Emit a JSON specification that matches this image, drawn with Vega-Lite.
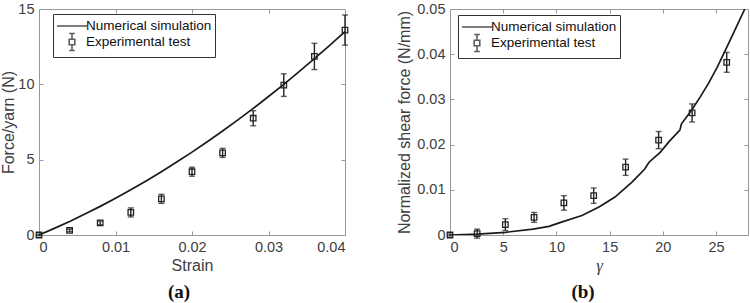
{
  "$schema": "https://vega.github.io/schema/vega-lite/v6.json",
  "padding": {"left": 0, "top": 0, "right": 0, "bottom": 0},
  "spacing": 45,
  "datasets": {
    "simA": [
      {"strain": 0, "force": 0}, {"strain": 0.002, "force": 0.44}, {"strain": 0.004, "force": 0.9},
      {"strain": 0.006, "force": 1.39}, {"strain": 0.008, "force": 1.9}, {"strain": 0.01, "force": 2.44},
      {"strain": 0.012, "force": 3.0}, {"strain": 0.014, "force": 3.59}, {"strain": 0.016, "force": 4.2},
      {"strain": 0.018, "force": 4.84}, {"strain": 0.02, "force": 5.5}, {"strain": 0.022, "force": 6.19},
      {"strain": 0.024, "force": 6.9}, {"strain": 0.026, "force": 7.64}, {"strain": 0.028, "force": 8.4},
      {"strain": 0.03, "force": 9.19}, {"strain": 0.032, "force": 10.0}, {"strain": 0.034, "force": 10.84},
      {"strain": 0.036, "force": 11.7}, {"strain": 0.038, "force": 12.59}, {"strain": 0.04, "force": 13.5}
    ],
    "expA": [
      {"strain": 0, "force": 0, "err": 0.05}, {"strain": 0.004, "force": 0.3, "err": 0.08},
      {"strain": 0.008, "force": 0.8, "err": 0.12}, {"strain": 0.012, "force": 1.5, "err": 0.3},
      {"strain": 0.016, "force": 2.4, "err": 0.3}, {"strain": 0.02, "force": 4.2, "err": 0.3},
      {"strain": 0.024, "force": 5.45, "err": 0.3}, {"strain": 0.028, "force": 7.75, "err": 0.5},
      {"strain": 0.032, "force": 9.95, "err": 0.75}, {"strain": 0.036, "force": 11.85, "err": 0.87},
      {"strain": 0.04, "force": 13.6, "err": 1.0}
    ],
    "simB": [
      {"gamma": 0, "shear": 0}, {"gamma": 2.6, "shear": 0.0002}, {"gamma": 5.2, "shear": 0.0006},
      {"gamma": 7.8, "shear": 0.0013}, {"gamma": 9.3, "shear": 0.0019}, {"gamma": 10.4, "shear": 0.0028},
      {"gamma": 12.4, "shear": 0.0043}, {"gamma": 14.0, "shear": 0.0062}, {"gamma": 15.5, "shear": 0.0084},
      {"gamma": 17.1, "shear": 0.0117}, {"gamma": 18.3, "shear": 0.0146}, {"gamma": 18.7, "shear": 0.0161},
      {"gamma": 19.75, "shear": 0.0183}, {"gamma": 20.6, "shear": 0.0207}, {"gamma": 21.6, "shear": 0.0232},
      {"gamma": 21.75, "shear": 0.0246}, {"gamma": 22.7, "shear": 0.0276}, {"gamma": 23.5, "shear": 0.0305},
      {"gamma": 24.3, "shear": 0.0336}, {"gamma": 25.1, "shear": 0.0371}, {"gamma": 25.9, "shear": 0.041},
      {"gamma": 26.8, "shear": 0.0455}, {"gamma": 27.7, "shear": 0.05}
    ],
    "expB": [
      {"gamma": 0, "shear": 0, "err": 0.0002}, {"gamma": 2.55, "shear": 0.0003, "err": 0.001},
      {"gamma": 5.2, "shear": 0.0023, "err": 0.0013}, {"gamma": 7.9, "shear": 0.0039, "err": 0.0011},
      {"gamma": 10.7, "shear": 0.0071, "err": 0.0016}, {"gamma": 13.5, "shear": 0.0087, "err": 0.0017},
      {"gamma": 16.5, "shear": 0.015, "err": 0.0018}, {"gamma": 19.6, "shear": 0.021, "err": 0.0019},
      {"gamma": 22.75, "shear": 0.027, "err": 0.002}, {"gamma": 26.0, "shear": 0.0382, "err": 0.0022}
    ],
    "series": [{"series": "Numerical simulation"}, {"series": "Experimental test"}]
  },
  "hconcat": [
    {
      "width": 306,
      "height": 226,
      "title": {"text": "(a)", "orient": "bottom", "frame": "group", "dx": -13, "offset": 9},
      "layer": [
        {
          "data": {"name": "simA"},
          "mark": {"type": "line", "color": "#1a1a1a", "strokeWidth": 1.7},
          "encoding": {
            "x": {"field": "strain", "type": "quantitative", "title": "Strain",
                  "scale": {"domain": [0, 0.04], "nice": false},
                  "axis": {"orient": "bottom", "values": [0, 0.01, 0.02, 0.03, 0.04], "format": ".2~f"}},
            "y": {"field": "force", "type": "quantitative", "title": "Force/yarn (N)",
                  "scale": {"domain": [0, 15], "nice": false},
                  "axis": {"orient": "left", "values": [0, 5, 10, 15], "titlePadding": 1}}
          }
        },
        {
          "data": {"name": "expA"},
          "mark": {"type": "errorbar", "color": "#222", "thickness": 1.4, "ticks": {"size": 6, "thickness": 1.4}},
          "encoding": {
            "x": {"field": "strain", "type": "quantitative", "axis": null},
            "y": {"field": "force", "type": "quantitative", "axis": null},
            "yError": {"field": "err"}
          }
        },
        {
          "data": {"name": "expA"},
          "mark": {"type": "point", "shape": "square", "filled": false, "color": "#222", "size": 30, "strokeWidth": 1.3, "opacity": 1},
          "encoding": {
            "x": {"field": "strain", "type": "quantitative",
                  "axis": {"orient": "top", "values": [0.01, 0.02, 0.03], "labels": false, "title": null}},
            "y": {"field": "force", "type": "quantitative",
                  "axis": {"orient": "right", "values": [5, 10], "labels": false, "title": null}}
          }
        },
        {
          "data": {"name": "series"},
          "transform": [{"filter": "false"}],
          "mark": {"type": "point"},
          "encoding": {
            "shape": {"field": "series", "type": "nominal",
                      "scale": {"domain": ["Numerical simulation", "Experimental test"],
                                "range": ["M-1.875,0H1.875", "M0,-1.06V-0.35M0,0.35V1.06M-0.35,-1.06H0.35M-0.35,1.06H0.35M-0.35,-0.35H0.35V0.35H-0.35Z"]},
                      "legend": {"orient": "none", "legendX": 14, "legendY": 5}}
          }
        }
      ],
      "resolve": {"axis": {"x": "independent", "y": "independent"}}
    },
    {
      "width": 298,
      "height": 226,
      "title": {"text": "(b)", "orient": "bottom", "frame": "group", "dx": -16, "offset": 9},
      "layer": [
        {
          "data": {"name": "simB"},
          "mark": {"type": "line", "color": "#1a1a1a", "strokeWidth": 1.7, "clip": true},
          "encoding": {
            "x": {"field": "gamma", "type": "quantitative", "title": "γ",
                  "scale": {"domain": [0, 28], "nice": false},
                  "axis": {"orient": "bottom", "values": [0, 5, 10, 15, 20, 25], "titleFont": "Liberation Serif", "titleFontSize": 17, "titleFontStyle": "italic"}},
            "y": {"field": "shear", "type": "quantitative", "title": "Normalized shear force (N/mm)",
                  "scale": {"domain": [0, 0.05], "nice": false},
                  "axis": {"orient": "left", "values": [0, 0.01, 0.02, 0.03, 0.04, 0.05], "format": ".2~f"}}
          }
        },
        {
          "data": {"name": "expB"},
          "mark": {"type": "errorbar", "color": "#222", "thickness": 1.4, "ticks": {"size": 6, "thickness": 1.4}},
          "encoding": {
            "x": {"field": "gamma", "type": "quantitative", "axis": null},
            "y": {"field": "shear", "type": "quantitative", "axis": null},
            "yError": {"field": "err"}
          }
        },
        {
          "data": {"name": "expB"},
          "mark": {"type": "point", "shape": "square", "filled": false, "color": "#222", "size": 30, "strokeWidth": 1.3, "opacity": 1},
          "encoding": {
            "x": {"field": "gamma", "type": "quantitative",
                  "axis": {"orient": "top", "values": [5, 10, 15, 20, 25], "labels": false, "title": null}},
            "y": {"field": "shear", "type": "quantitative",
                  "axis": {"orient": "right", "values": [0.01, 0.02, 0.03, 0.04], "labels": false, "title": null}}
          }
        },
        {
          "data": {"name": "series"},
          "transform": [{"filter": "false"}],
          "mark": {"type": "point"},
          "encoding": {
            "shape": {"field": "series", "type": "nominal",
                      "scale": {"domain": ["Numerical simulation", "Experimental test"],
                                "range": ["M-1.875,0H1.875", "M0,-1.06V-0.35M0,0.35V1.06M-0.35,-1.06H0.35M-0.35,1.06H0.35M-0.35,-0.35H0.35V0.35H-0.35Z"]},
                      "legend": {"orient": "none", "legendX": 8, "legendY": 6}}
          }
        }
      ],
      "resolve": {"axis": {"x": "independent", "y": "independent"}}
    }
  ],
  "resolve": {"scale": {"shape": "independent"}, "legend": {"shape": "independent"}},
  "config": {
    "font": "Liberation Sans",
    "view": {"stroke": "#999", "strokeWidth": 1},
    "axis": {
      "domain": false, "grid": false,
      "tickSize": -4, "tickColor": "#999", "tickWidth": 1,
      "labelFont": "Liberation Sans", "labelFontSize": 14.5, "labelColor": "#404040", "labelPadding": 9,
      "titleFont": "Liberation Sans", "titleFontSize": 16, "titleFontWeight": "normal", "titleColor": "#404040"
    },
    "title": {"font": "Liberation Serif", "fontSize": 19, "fontWeight": "bold", "color": "#111"},
    "legend": {
      "title": null,
      "strokeColor": "#333", "fillColor": "white", "strokeWidth": 1,
      "padding": 3, "rowPadding": -6, "cornerRadius": 0,
      "symbolSize": 256, "symbolStrokeColor": "#1a1a1a", "symbolFillColor": "transparent",
      "symbolStrokeWidth": 1.6, "symbolOffset": 7,
      "labelFont": "Liberation Sans", "labelFontSize": 13.5, "labelColor": "#111", "labelOffset": 5
    }
  }
}
